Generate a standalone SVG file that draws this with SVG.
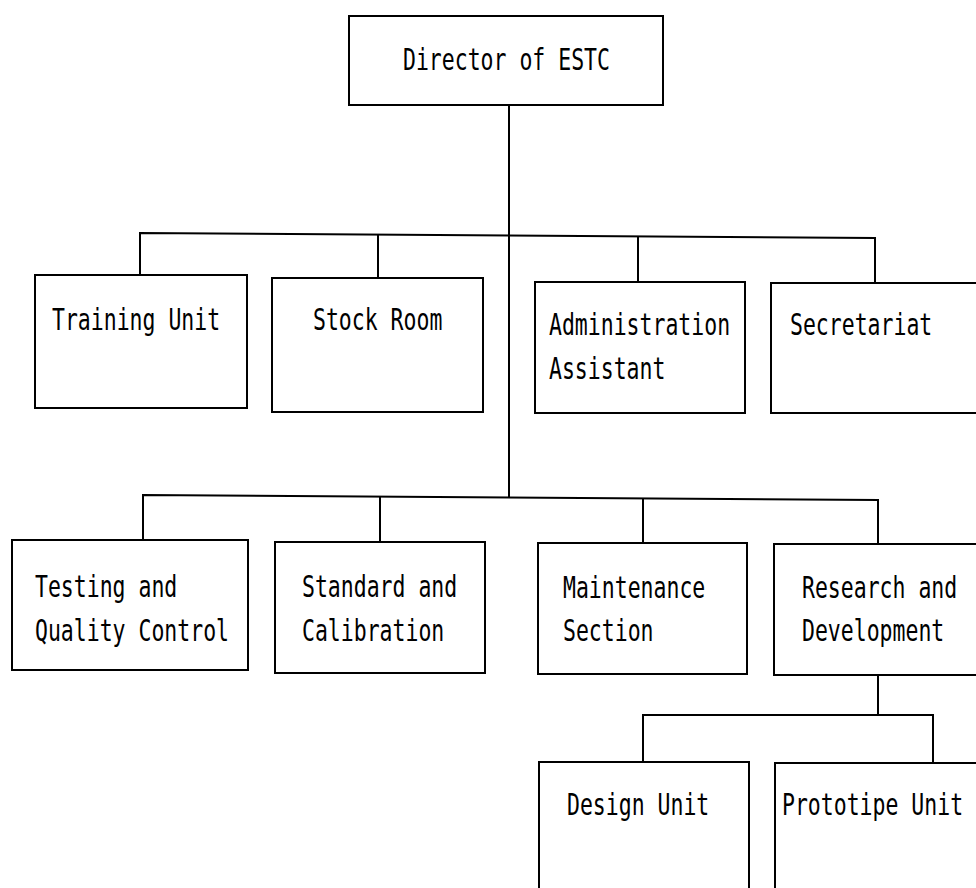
<svg xmlns="http://www.w3.org/2000/svg" width="976" height="888" viewBox="0 0 976 888">
<style>
.box{fill:#fff;stroke:#000;stroke-width:2}
.ln{fill:none;stroke:#000;stroke-width:2}
text{font-family:"DejaVu Sans Mono","Liberation Mono",monospace;font-size:21.5px;fill:#000}
</style>
<rect width="976" height="888" fill="#fff"/>
<g id="connectors">
<path class="ln" d="M509 105 V497"/>
<path class="ln" d="M140 275 V233 L875 238 V283"/>
<path class="ln" d="M378 235 V278"/>
<path class="ln" d="M638 237 V282"/>
<path class="ln" d="M143 540 V495 L878 500 V544"/>
<path class="ln" d="M380 497 V541"/>
<path class="ln" d="M643 499 V543"/>
<path class="ln" d="M878 675 V715"/>
<path class="ln" d="M643 762 V715 H933 V763"/>
</g>
<g id="director">
<rect class="box" x="349" y="16" width="314" height="89"/>
<text transform="translate(403 70) scale(1 1.38)">Director of ESTC</text>
</g>
<g id="training">
<rect class="box" x="35" y="275" width="212" height="133"/>
<text transform="translate(52 330) scale(1 1.38)">Training Unit</text>
</g>
<g id="stock">
<rect class="box" x="272" y="278" width="211" height="134"/>
<text transform="translate(313 330) scale(1 1.38)">Stock Room</text>
</g>
<g id="admin">
<rect class="box" x="535" y="282" width="210" height="131"/>
<text transform="translate(549 335) scale(1 1.38)">Administration</text>
<text transform="translate(549 379) scale(1 1.38)">Assistant</text>
</g>
<g id="secretariat">
<path class="box" d="M976 283 H771 V413 H976"/>
<text transform="translate(790 335) scale(1 1.38)">Secretariat</text>
</g>
<g id="testing">
<rect class="box" x="12" y="540" width="236" height="130"/>
<text transform="translate(35 597) scale(1 1.38)">Testing and</text>
<text transform="translate(35 641) scale(1 1.38)">Quality Control</text>
</g>
<g id="standard">
<rect class="box" x="275" y="542" width="210" height="131"/>
<text transform="translate(302 597) scale(1 1.38)">Standard and</text>
<text transform="translate(302 641) scale(1 1.38)">Calibration</text>
</g>
<g id="maintenance">
<rect class="box" x="538" y="543" width="209" height="131"/>
<text transform="translate(563 598) scale(1 1.38)">Maintenance</text>
<text transform="translate(563 641) scale(1 1.38)">Section</text>
</g>
<g id="research">
<path class="box" d="M976 544 H774 V675 H976"/>
<text transform="translate(802 598) scale(1 1.38)">Research and</text>
<text transform="translate(802 641) scale(1 1.38)">Development</text>
</g>
<g id="design">
<path class="box" d="M539 888 V762 H749 V888"/>
<text transform="translate(567 815) scale(1 1.38)">Design Unit</text>
</g>
<g id="prototipe">
<path class="box" d="M775 888 V763 H976"/>
<text transform="translate(782 815) scale(1 1.38)">Prototipe Unit</text>
</g>
</svg>
